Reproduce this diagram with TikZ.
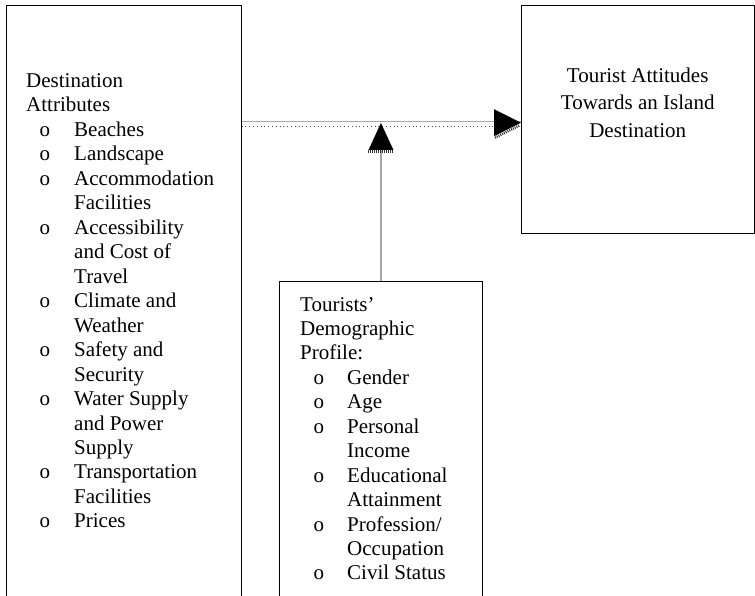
\documentclass[tikz,border=0pt]{standalone}
\usepackage{fontspec}
\setmainfont{Liberation Serif}
\begin{document}
\begin{tikzpicture}[x=1pt,y=-1pt,
  box/.style={draw=black, line width=0.9pt, inner sep=0pt},
  txt/.style={anchor=base west, inner sep=0pt, font=\fontsize{21}{24.5}\selectfont},
  ctxt/.style={anchor=base, inner sep=0pt, font=\fontsize{21}{24.5}\selectfont},
  conn/.style={draw=gray!70, line width=1.3pt},
  dotline/.style={draw=black!70, line width=0.8pt, dash pattern=on 0.8pt off 3pt},
  head/.style={fill=black},
  hatch/.style={draw=black!80, line width=2.5pt, dash pattern=on 1pt off 1pt}]
\useasboundingbox (0,0) rectangle (755,596);
\clip (0,0) rectangle (755,596);

% boxes
\node[box, anchor=north west, minimum width=234.7pt, minimum height=620pt] (dest) at (6,4.7) {};
\node[box, anchor=north west, minimum width=202.4pt, minimum height=400pt] (demo) at (279.3,281) {};
\node[box, anchor=north west, minimum width=233.3pt, minimum height=228pt] (att) at (521,4.7) {};

% left box text
\foreach \k/\t [count=\i from 0] in {0/Destination,0/Attributes,1/Beaches,1/Landscape,1/Accommodation,2/Facilities,1/Accessibility,2/and Cost of,2/Travel,1/Climate and,2/Weather,1/Safety and,2/Security,1/Water Supply,2/and Power,2/Supply,1/Transportation,2/Facilities,1/Prices}{
  \pgfmathsetmacro\yy{87.3+24.48*\i}
  \ifnum\k=0
    \node[txt] (dl\i) at (26,\yy) {\t};
  \else
    \node[txt] (dl\i) at (74,\yy) {\t};
  \fi
  \ifnum\k=1
    \node[txt] (db\i) at (39.5,\yy) {o};
  \fi
}

% middle box text
\foreach \k/\t [count=\i from 0] in {0/Tourists’,0/Demographic,0/Profile:,1/Gender,1/Age,1/Personal,2/Income,1/Educational,2/Attainment,1/{Profession/},2/Occupation,1/Civil Status}{
  \pgfmathsetmacro\yy{311+24.45*\i}
  \ifnum\k=0
    \node[txt] (ml\i) at (300,\yy) {\t};
  \else
    \node[txt] (ml\i) at (347,\yy) {\t};
  \fi
  \ifnum\k=1
    \node[txt] (mb\i) at (313.5,\yy) {o};
  \fi
}

% right box text
\node[ctxt] (r1) at (637.7,82.7) {Tourist Attitudes};
\node[ctxt] (r2) at (637.7,110) {Towards an Island};
\node[ctxt] (r3) at (637.7,137.3) {Destination};

% horizontal connector
\coordinate (hy) at (0,121.7);
\coordinate (dy) at (0,126);
\coordinate (htip) at (att.west |- 0,122.7);
\draw[conn] (dest.east |- hy) -- (att.west |- hy);
\draw[dotline] (dest.east |- dy) -- ([xshift=-27pt]att.west |- dy);
\fill[head] (htip) -- ++(-27,-13.5) -- ++(0,27) -- cycle;
\draw[hatch] ([shift={(-26,15)}]htip) -- ([shift={(-1,2.5)}]htip);

% vertical connector
\coordinate (vtip) at (demo.north |- 0,123);
\coordinate (vbase) at (demo.north |- 0,150);
\draw[conn] (demo.north) -- (vbase);
\fill[head] (vtip) -- ++(-12.5,27) -- ++(25,0) -- cycle;
\draw[hatch] ([shift={(-12.5,28.5)}]vtip) -- ++(25,0);
\end{tikzpicture}
\end{document}
